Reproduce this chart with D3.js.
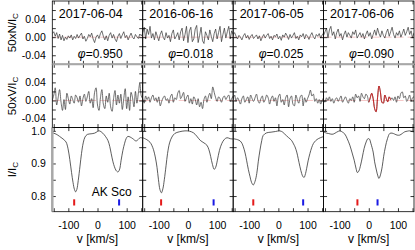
<!DOCTYPE html>
<html>
<head>
<meta charset="utf-8">
<script src="https://cdn.jsdelivr.net/npm/d3@7/dist/d3.min.js"></script>
<style>
  body { margin: 0; background: #fff; }
  svg { display: block; font-family: "Liberation Sans", Arial, sans-serif; }
  .tick text { font-family: "Liberation Sans", Arial, sans-serif; font-size: 10.5px; fill: #000; }
</style>
</head>
<body>
<div id="chart"></div>
<script>
// ---- data ----
const DATES = ['2017-06-04', '2016-06-16', '2017-06-05', '2017-06-06'];
const PHASES = ['0.950', '0.018', '0.025', '0.090'];
const RED_MARK = [-80, -92, -86, -39];
const BLUE_MARK = [74, 88, 85, 30];
const V_TICKS = [-100, 0, 100];
const NV_TICKS = [0.04, 0.00, -0.04];
const I_TICKS = [1.0, 0.9, 0.8];

// velocity grid of the N and V spectra (km/s)
const V_GRID = [
  -155, -150, -145, -140, -135, -130, -125, -120, -115,
  -110, -105, -100, -95, -90, -85, -80, -75, -70,
  -65, -60, -55, -50, -45, -40, -35, -30, -25,
  -20, -15, -10, -5, 0, 5, 10, 15, 20,
  25, 30, 35, 40, 45, 50, 55, 60, 65,
  70, 75, 80, 85, 90, 95, 100, 105, 110,
  115, 120, 125, 130, 135, 140, 145, 150, 155
];

// null spectra, 50xN/Ic
const N1 = [
  0.008, 0.012, 0.002, 0.010, -0.003, 0.007, -0.006, 0.004, -0.008,
  0.000, -0.005, 0.003, -0.002, 0.005, -0.006, 0.002, -0.003, 0.006,
  -0.002, 0.004, 0.009, -0.004, 0.002, -0.009, -0.003, 0.006, 0.001,
  0.009, -0.004, -0.012, 0.000, 0.005, -0.003, 0.008, 0.014, 0.002,
  -0.006, 0.003, -0.008, 0.004, 0.010, -0.002, 0.006, -0.004, -0.010,
  0.002, 0.008, -0.003, 0.005, 0.012, -0.001, 0.004, -0.006, 0.002,
  0.009, 0.000, -0.004, 0.006, 0.001, -0.003, 0.007, 0.003, 0.008
];
const N2 = [
  0.010, 0.022, -0.004, 0.018, 0.006, 0.024, -0.002, 0.008, -0.006,
  0.012, 0.002, -0.008, 0.006, 0.014, 0.000, -0.006, 0.010, -0.002,
  0.004, -0.010, 0.008, 0.016, -0.004, 0.002, 0.010, -0.006, 0.012,
  0.020, -0.008, 0.006, 0.024, -0.012, 0.014, 0.022, -0.010, -0.004,
  0.018, 0.026, -0.012, 0.004, 0.022, -0.008, -0.014, 0.012, 0.004,
  -0.006, 0.016, 0.002, -0.010, 0.008, 0.018, -0.004, 0.010, 0.024,
  -0.010, 0.006, 0.020, -0.002, 0.012, 0.024, -0.004, 0.014, 0.006
];
const N3 = [
  0.006, 0.010, 0.002, -0.004, 0.004, 0.000, -0.006, 0.003, 0.008,
  -0.002, 0.004, -0.005, 0.002, 0.006, -0.003, 0.001, 0.005, -0.004,
  0.003, -0.008, 0.000, 0.006, -0.002, 0.004, 0.008, -0.003, 0.002,
  -0.006, 0.004, 0.001, 0.007, -0.004, 0.002, -0.007, 0.005, 0.000,
  0.009, 0.003, -0.005, 0.006, -0.002, 0.004, 0.010, -0.003, 0.002,
  -0.006, 0.005, 0.001, 0.008, -0.004, 0.006, 0.002, -0.005, 0.004,
  0.010, 0.001, -0.004, 0.006, 0.002, 0.008, -0.002, 0.005, 0.009
];
const N4 = [
  0.004, 0.012, 0.020, -0.002, 0.016, 0.024, 0.004, 0.012, -0.004,
  0.010, 0.018, 0.002, 0.008, -0.006, 0.006, 0.014, 0.000, 0.010,
  0.004, -0.002, 0.012, 0.006, 0.016, -0.002, 0.004, 0.010, 0.000,
  0.008, -0.004, 0.006, 0.014, 0.002, 0.010, -0.004, 0.006, 0.016,
  0.004, 0.020, 0.008, 0.000, 0.014, 0.004, -0.002, 0.010, 0.018,
  0.002, 0.012, 0.022, 0.006, -0.002, 0.010, 0.004, 0.014, 0.000,
  0.008, 0.018, 0.004, 0.012, 0.022, 0.006, 0.014, -0.002, 0.010
];

// Stokes V, 50xV/Ic
const V1 = [
  0.000, 0.012, 0.028, -0.010, 0.006, 0.024, -0.004, -0.022, 0.002,
  -0.020, 0.016, 0.004, -0.008, 0.010, 0.002, -0.006, 0.012, 0.006,
  -0.004, 0.010, -0.012, 0.004, 0.014, -0.002, 0.008, 0.020, -0.006,
  0.004, -0.016, 0.018, 0.028, -0.010, -0.022, 0.006, 0.024, -0.008,
  -0.018, 0.010, -0.004, 0.016, -0.014, -0.024, 0.004, 0.022, -0.010,
  0.012, -0.006, 0.014, -0.020, 0.004, 0.026, -0.018, 0.008, -0.022,
  0.018, 0.006, -0.014, 0.020, -0.006, 0.016, 0.038, 0.010, 0.004
];
const V2 = [
  0.004, -0.006, 0.010, 0.002, 0.008, -0.004, 0.006, 0.012, 0.000,
  0.006, -0.004, 0.008, -0.012, -0.002, 0.006, 0.010, 0.000, 0.004,
  -0.006, 0.008, 0.014, -0.004, 0.006, 0.002, 0.016, 0.022, 0.004,
  0.010, 0.018, -0.002, 0.006, 0.012, -0.006, 0.004, -0.008, 0.008,
  0.002, -0.010, 0.004, -0.014, -0.004, -0.018, 0.002, 0.010, -0.004,
  0.008, 0.016, 0.004, 0.030, 0.018, 0.006, -0.002, 0.008, 0.004,
  -0.004, 0.006, 0.010, 0.002, 0.008, 0.012, -0.002, 0.004, 0.010
];
const V3 = [
  0.004, 0.012, -0.002, 0.006, 0.000, -0.008, 0.004, 0.010, -0.004,
  0.002, 0.008, -0.006, 0.012, 0.004, -0.002, 0.006, 0.014, 0.000,
  -0.006, 0.004, 0.010, -0.004, 0.002, 0.012, 0.006, -0.008, 0.004,
  0.010, -0.002, 0.006, -0.012, 0.008, 0.014, -0.004, 0.002, -0.010,
  0.006, 0.012, -0.014, 0.004, 0.010, -0.008, -0.012, 0.012, 0.002,
  -0.006, 0.008, 0.012, -0.012, 0.006, -0.004, 0.004, 0.012, 0.023,
  0.010, 0.014, -0.002, 0.004, -0.006, 0.002, -0.008, 0.000, 0.006
];
const V4 = [
  0.002, -0.004, 0.006, 0.000, 0.008, -0.002, 0.004, -0.006, 0.002,
  0.006, -0.002, 0.004, 0.010, -0.004, 0.002, 0.008, 0.000, -0.006,
  0.004, 0.000, 0.008, -0.004, 0.014, 0.006, 0.010, -0.002, 0.016,
  0.008, 0.004, 0.014, 0.010, -0.004, 0.006, 0.016, 0.004, -0.018,
  -0.025, 0.006, 0.032, 0.018, -0.004, -0.006, 0.012, 0.004, -0.003,
  0.008, 0.002, 0.006, 0.000, 0.008, -0.004, 0.010, 0.004, 0.016,
  0.019, 0.006, 0.010, -0.002, 0.004, 0.012, -0.002, 0.006, 0.008
];
// velocity range of the signal drawn in red (last night)
const SIGNAL_RANGE = [0, 75];

// Stokes I profiles: velocities and I/Ic
const I1_V = [-155, -142, -130, -118, -108, -101, -95, -89, -84, -79, -75, -71, -66, -60, -55, -49, -43, -35, -22, -10, 0, 6, 18, 28, 36, 42, 47, 53, 58, 64, 70, 75, 81, 87, 93, 98, 104, 112, 121, 132, 140, 146, 155];
const I1 = [0.994, 0.990, 0.983, 0.975, 0.966, 0.945, 0.912, 0.872, 0.842, 0.820, 0.813, 0.820, 0.848, 0.892, 0.930, 0.963, 0.981, 0.989, 0.991, 0.993, 0.998, 1.000, 0.993, 0.982, 0.970, 0.952, 0.930, 0.905, 0.890, 0.878, 0.874, 0.880, 0.910, 0.940, 0.962, 0.976, 0.983, 0.981, 0.976, 0.969, 0.974, 0.979, 0.978];
const I2_V = [-155, -141, -130, -124, -118, -112, -106, -101, -96, -91, -86, -81, -75, -70, -63, -55, -45, -30, -10, 5, 19, 30, 42, 55, 65, 72, 78, 84, 90, 95, 101, 108, 116, 125, 134, 145, 155];
const I2 = [0.979, 0.973, 0.965, 0.956, 0.942, 0.920, 0.888, 0.850, 0.820, 0.810, 0.822, 0.850, 0.893, 0.930, 0.963, 0.981, 0.992, 0.997, 1.000, 0.999, 0.994, 0.984, 0.971, 0.963, 0.956, 0.942, 0.921, 0.897, 0.882, 0.888, 0.910, 0.940, 0.961, 0.974, 0.979, 0.976, 0.975];
const I3_V = [-155, -140, -131, -125, -120, -114, -109, -103, -97, -92, -86, -80, -74, -69, -63, -57, -52, -40, -25, -10, 5, 15, 22, 34, 45, 52, 57, 63, 68, 74, 80, 84, 88, 92, 97, 102, 108, 114, 120, 128, 137, 150, 155];
const I3 = [0.976, 0.973, 0.969, 0.962, 0.951, 0.932, 0.910, 0.882, 0.859, 0.842, 0.834, 0.845, 0.869, 0.905, 0.941, 0.970, 0.986, 0.994, 0.996, 0.998, 1.000, 0.996, 0.990, 0.980, 0.971, 0.960, 0.951, 0.935, 0.915, 0.890, 0.869, 0.860, 0.857, 0.865, 0.885, 0.908, 0.930, 0.948, 0.961, 0.970, 0.976, 0.981, 0.982];
const I4_V = [-155, -145, -139, -130, -122, -110, -99, -90, -82, -74, -65, -57, -50, -44, -39, -34, -28, -22, -16, -9, -3, 2, 7, 15, 20, 26, 31, 35, 40, 46, 51, 57, 64, 72, 80, 89, 97, 106, 115, 123, 132, 140, 148, 155];
const I4 = [0.997, 0.993, 0.992, 0.990, 0.990, 0.996, 1.000, 0.996, 0.990, 0.976, 0.956, 0.932, 0.910, 0.886, 0.872, 0.877, 0.895, 0.920, 0.946, 0.966, 0.976, 0.975, 0.962, 0.935, 0.905, 0.880, 0.862, 0.854, 0.865, 0.890, 0.922, 0.951, 0.976, 0.992, 0.993, 0.990, 0.987, 0.987, 0.992, 0.997, 0.999, 1.000, 0.998, 0.997];

const MARK_RANGE = [0.771, 0.790];

// ---- layout ----
const W = 415;
const H = 250;
const LEFT = 52.3;
const RIGHT = 414;
const PW = (RIGHT - LEFT) / 4;
const ROWS = [
  {top: 1, h: 63.3},
  {top: 64.3, h: 63.3},
  {top: 127.6, h: 84.1}
];

const svg = d3.select('#chart')
  .append('svg')
    .attr('width', W)
    .attr('height', H);

const xScale = d3.scaleLinear().domain([-155, 155]).range([0, PW]);
const yNV = d3.scaleLinear().domain([-0.06, 0.08]).range([ROWS[0].h, 0]);
const yI = d3.scaleLinear().domain([0.752, 1.010]).range([ROWS[2].h, 0]);

const nSeries = [N1, N2, N3, N4];
const vSeries = [V1, V2, V3, V4];
const iSeries = [[I1_V, I1], [I2_V, I2], [I3_V, I3], [I4_V, I4]];

const zip = (xs, ys) => xs.map((v, i) => [v, ys[i]]);

function panel(col, row) {
  const g = svg.append('g')
    .attr('transform', `translate(${LEFT + col * PW},${ROWS[row].top})`);
  const id = `clip-${row}-${col}`;
  g.append('clipPath').attr('id', id)
    .append('rect').attr('width', PW).attr('height', ROWS[row].h);
  return {g: g, plot: g.append('g').attr('clip-path', `url(#${id})`)};
}

function frameTicks(g, y, h, yMinor) {
  const xMinor = [-150, -100, -50, 0, 50, 100, 150];
  const strip = s => s.select('.domain').remove();
  g.append('g').attr('transform', `translate(0,${h})`)
    .call(d3.axisBottom(xScale).tickValues(xMinor).tickSize(-3.5).tickFormat('')).call(strip);
  g.append('g')
    .call(d3.axisTop(xScale).tickValues(xMinor).tickSize(-3.5).tickFormat('')).call(strip);
  g.append('g')
    .call(d3.axisLeft(y).tickValues(yMinor).tickSize(-3.5).tickFormat('')).call(strip);
  g.append('g').attr('transform', `translate(${PW},0)`)
    .call(d3.axisRight(y).tickValues(yMinor).tickSize(-3.5).tickFormat('')).call(strip);
  g.selectAll('.tick line').attr('stroke', '#000').attr('stroke-width', 0.8);
  g.append('rect')
    .attr('width', PW).attr('height', h)
    .attr('fill', 'none').attr('stroke', '#000').attr('stroke-width', 0.8);
}

const lineN = d3.line()
  .x(d => xScale(d[0]))
  .y(d => yNV(d[1]));
const lineV = d3.line()
  .x(d => xScale(d[0]))
  .y(d => yNV(d[1]))
  .curve(d3.curveCatmullRom.alpha(0.5));
const lineI = d3.line()
  .x(d => xScale(d[0]))
  .y(d => yI(d[1]))
  .curve(d3.curveCatmullRom.alpha(0.5));

const NV_MINOR = [-0.04, -0.02, 0, 0.02, 0.04, 0.06];
const I_MINOR = [0.8, 0.85, 0.9, 0.95, 1.0];

for (let c = 0; c < 4; c++) {
  // N row
  let p = panel(c, 0);
  p.plot.append('line')
    .attr('x1', 0).attr('x2', PW)
    .attr('y1', yNV(0)).attr('y2', yNV(0))
    .attr('stroke', '#f2b8b8').attr('stroke-width', 0.8).attr('stroke-dasharray', '8,4');
  p.plot.append('path')
    .datum(zip(V_GRID, nSeries[c]))
    .attr('d', lineN)
    .attr('fill', 'none').attr('stroke', '#333').attr('stroke-width', 0.7);
  frameTicks(p.g, yNV, ROWS[0].h, NV_MINOR);
  p.g.append('text')
    .attr('x', 6.5).attr('y', 17)
    .attr('font-size', 12.5)
    .text(DATES[c]);
  const ph = p.g.append('text')
    .attr('x', 25.5).attr('y', 56.5)
    .attr('font-size', 12);
  ph.append('tspan').attr('font-style', 'italic').text('φ');
  ph.append('tspan').text('=' + PHASES[c]);

  // V row
  p = panel(c, 1);
  p.plot.append('line')
    .attr('x1', 0).attr('x2', PW)
    .attr('y1', yNV(0)).attr('y2', yNV(0))
    .attr('stroke', '#f2b8b8').attr('stroke-width', 0.8).attr('stroke-dasharray', '8,4');
  const vData = zip(V_GRID, vSeries[c]);
  p.plot.append('path')
    .datum(vData)
    .attr('d', lineV)
    .attr('fill', 'none').attr('stroke', '#333').attr('stroke-width', 0.7);
  if (c === 3) {
    p.plot.append('path')
      .datum(vData.filter(d => d[0] >= SIGNAL_RANGE[0] && d[0] <= SIGNAL_RANGE[1]))
      .attr('d', lineV)
      .attr('fill', 'none').attr('stroke', '#e01010').attr('stroke-width', 0.8);
  }
  frameTicks(p.g, yNV, ROWS[1].h, NV_MINOR);

  // I row
  p = panel(c, 2);
  p.plot.append('path')
    .datum(zip(iSeries[c][0], iSeries[c][1]))
    .attr('d', lineI)
    .attr('fill', 'none').attr('stroke', '#333').attr('stroke-width', 0.8);
  [[RED_MARK[c], '#e41a1a'], [BLUE_MARK[c], '#1a1ae4']].forEach(m => {
    p.plot.append('rect')
      .attr('x', xScale(m[0]) - 1)
      .attr('y', yI(MARK_RANGE[1]))
      .attr('width', 2)
      .attr('height', yI(MARK_RANGE[0]) - yI(MARK_RANGE[1]))
      .attr('fill', m[1]);
  });
  frameTicks(p.g, yI, ROWS[2].h, I_MINOR);
  if (c === 0) {
    p.g.append('text')
      .attr('x', xScale(-20)).attr('y', yI(0.8))
      .attr('font-size', 12)
      .text('AK Sco');
  }

  // velocity axis labels
  p.g.append('g').attr('transform', `translate(0,${ROWS[2].h})`)
    .call(d3.axisBottom(xScale).tickValues(V_TICKS).tickSize(0).tickPadding(10).tickFormat(d => String(d)))
    .call(s => s.select('.domain').remove());
  p.g.append('text')
    .attr('x', PW / 2).attr('y', ROWS[2].h + 31.5)
    .attr('text-anchor', 'middle')
    .attr('font-size', 12)
    .text('v [km/s]');
}

// left tick labels
[[0, NV_TICKS, yNV, 2], [1, NV_TICKS, yNV, 2], [2, I_TICKS, yI, 1]].forEach(r => {
  svg.append('g')
    .attr('transform', `translate(${LEFT},${ROWS[r[0]].top})`)
    .call(d3.axisLeft(r[2]).tickValues(r[1]).tickSize(0).tickPadding(6.5).tickFormat(d => d.toFixed(r[3])))
    .call(s => s.select('.domain').remove());
});

// gray seams as in the original plot
svg.append('line')
  .attr('x1', LEFT).attr('x2', RIGHT)
  .attr('y1', ROWS[1].top).attr('y2', ROWS[1].top)
  .attr('stroke', '#a8a8a8').attr('stroke-width', 2);
svg.append('line')
  .attr('x1', LEFT).attr('x2', LEFT)
  .attr('y1', ROWS[2].top).attr('y2', ROWS[2].top + ROWS[2].h)
  .attr('stroke', '#a8a8a8').attr('stroke-width', 2.5);

// y titles
const titles = [['50xN/I', 'C', 0], ['50xV/I', 'C', 1], ['I/I', 'C', 2]];
titles.forEach(t => {
  const cy = ROWS[t[2]].top + ROWS[t[2]].h / 2;
  const tx = svg.append('text')
    .attr('transform', `translate(15.5,${cy}) rotate(-90)`)
    .attr('text-anchor', 'middle')
    .attr('font-size', 11.5);
  tx.append('tspan').text(t[0]);
  tx.append('tspan').attr('dy', 2.5).attr('font-size', 8).text(t[1]);
});
</script>
</body>
</html>
